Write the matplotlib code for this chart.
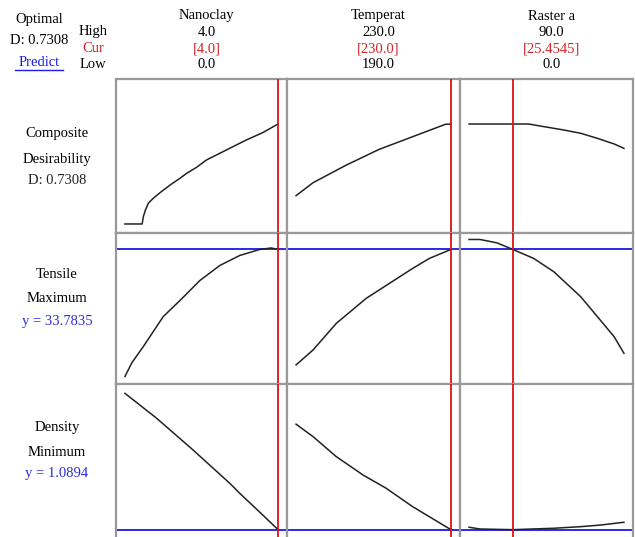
import matplotlib
matplotlib.use("Agg")
import matplotlib.pyplot as plt
from matplotlib.lines import Line2D

plt.rcParams['font.family'] = ['Liberation Serif', 'DejaVu Serif']

# ---- factors ----
factor_names = ["Nanoclay", "Temperat", "Raster a"]
factor_high = ["4.0", "230.0", "90.0"]
factor_cur = ["[4.0]", "[230.0]", "[25.4545]"]
factor_low = ["0.0", "190.0", "0.0"]
factor_lo_val = [0.0, 190.0, 0.0]
factor_hi_val = [4.0, 230.0, 90.0]
factor_cur_val = [4.0, 230.0, 25.4545]

# ---- responses ----
resp_title = [["Composite", "Desirability"], ["Tensile", "Maximum"], ["Density", "Minimum"]]
resp_value_text = ["D: 0.7308", "y = 33.7835", "y = 1.0894"]
resp_value_color = ["#222222", "#2b2bdd", "#2b2bdd"]
resp_current = [None, 33.7835, 1.0894]

# Composite desirability traces
d_nano_x = [0, 0.45, 0.48, 0.535, 0.61, 0.74, 0.917, 1.18, 1.437, 1.61, 1.87, 2.13, 2.65, 3.17, 3.60, 4.0]
d_nano_y = [0, 0, 0.053, 0.102, 0.151, 0.188, 0.229, 0.285, 0.334, 0.370, 0.414, 0.468, 0.541, 0.614, 0.668, 0.7308]
d_temp_x = [190, 194.4, 203.0, 211.5, 220.1, 228.6, 230]
d_temp_y = [0.207, 0.302, 0.431, 0.546, 0.638, 0.729, 0.7308]
d_rast_x = [0, 25.4545, 34.7, 41.5, 55.1, 64.9, 74.6, 84.3, 90]
d_rast_y = [0.7308, 0.7308, 0.7308, 0.716, 0.687, 0.663, 0.626, 0.585, 0.553]

# Tensile traces
t_nano_x = [0, 0.18, 0.48, 1.0, 1.44, 1.96, 2.48, 3.0, 3.52, 3.82, 4.0]
t_nano_y = [23.6, 24.7, 26.0, 28.4, 29.7, 31.3, 32.5, 33.3, 33.78, 33.9, 33.7835]
t_temp_x = [190, 194.4, 200.4, 208.1, 214.1, 220.1, 224.4, 230]
t_temp_y = [24.53, 25.73, 27.86, 29.86, 31.06, 32.26, 33.06, 33.7835]
t_rast_x = [0, 6.4, 16.2, 25.4545, 37.6, 49.3, 64.9, 74.6, 84.3, 90]
t_rast_y = [34.58, 34.58, 34.31, 33.7835, 33.06, 31.99, 29.99, 28.39, 26.79, 25.46]

# Density traces
r_nano_x = [0, 0.83, 1.78, 2.74, 3.0, 3.6, 4.0]
r_nano_y = [1.253, 1.223, 1.185, 1.145, 1.133, 1.107, 1.0894]
r_temp_x = [190, 194.4, 200.4, 207.3, 213.3, 220.1, 224.4, 230]
r_temp_y = [1.216, 1.201, 1.177, 1.155, 1.139, 1.117, 1.105, 1.0894]
r_rast_x = [0, 6.4, 25.4545, 49.3, 64.9, 76.6, 90]
r_rast_y = [1.0923, 1.0902, 1.0894, 1.0911, 1.0930, 1.0950, 1.0983]

traces = [
    [(d_nano_x, d_nano_y), (d_temp_x, d_temp_y), (d_rast_x, d_rast_y)],
    [(t_nano_x, t_nano_y), (t_temp_x, t_temp_y), (t_rast_x, t_rast_y)],
    [(r_nano_x, r_nano_y), (r_temp_x, r_temp_y), (r_rast_x, r_rast_y)],
]
row_ylim = [(-0.066, 1.06), (23.0, 35.1), (1.0806, 1.2642)]

# ---- layout (pixels) ----
W, H = 635, 537
col_edges = [116, 287, 460, 633]
row_edges = [79, 233, 384, 537]
GRAY = "#999999"
RED = "#dd1111"
TEXT_RED = "#d42424"
BLUE = "#1a1ae0"

fig = plt.figure(figsize=(W / 100, H / 100), dpi=100)


def fx(px):
    return px / W


def fy(py):
    return 1 - py / H


for r in range(3):
    for c in range(3):
        x0, x1 = col_edges[c], col_edges[c + 1]
        y0, y1 = row_edges[r], row_edges[r + 1]
        ax = fig.add_axes([fx(x0), fy(y1), fx(x1) - fx(x0), fy(y0) - fy(y1)])
        lo, hi = factor_lo_val[c], factor_hi_val[c]
        pad = (hi - lo) * 9.0 / 154.0
        ax.set_xlim(lo - pad, hi + pad)
        ax.set_ylim(*row_ylim[r])
        ax.set_xticks([])
        ax.set_yticks([])
        for name, sp in ax.spines.items():
            sp.set_color(GRAY)
            sp.set_linewidth(1.6)
        if r == 2:
            ax.spines['bottom'].set_visible(False)
        xs, ys = traces[r][c]
        ax.plot(xs, ys, color="#222222", lw=1.1, zorder=3, solid_joinstyle='round')
        if resp_current[r] is not None:
            ax.axhline(resp_current[r], color=BLUE, lw=1.3, zorder=2)
        ax.axvline(factor_cur_val[c], color=RED, lw=1.3, zorder=4)

fs = 10.5

# header block on the left
fig.text(fx(39), fy(19), "Optimal", ha='center', va='center', fontsize=fs)
fig.text(fx(39), fy(41), "D: 0.7308", ha='center', va='center', fontsize=fs)
fig.text(fx(39), fy(62), "Predict", ha='center', va='center', fontsize=fs, color="#1a1aee")
fig.add_artist(Line2D([fx(15), fx(63)], [fy(70), fy(70)], color="#1a1aee", lw=1.0))
fig.text(fx(93), fy(32), "High", ha='center', va='center', fontsize=fs)
fig.text(fx(93), fy(48), "Cur", ha='center', va='center', fontsize=fs, color=TEXT_RED)
fig.text(fx(93), fy(64), "Low", ha='center', va='center', fontsize=fs)

# factor headers
for c in range(3):
    cx = (col_edges[c] + col_edges[c + 1]) / 2 + 5
    fig.text(fx(cx), fy(16), factor_names[c], ha='center', va='center', fontsize=fs)
    fig.text(fx(cx), fy(33), factor_high[c], ha='center', va='center', fontsize=fs)
    fig.text(fx(cx), fy(49), factor_cur[c], ha='center', va='center', fontsize=fs, color=TEXT_RED)
    fig.text(fx(cx), fy(65), factor_low[c], ha='center', va='center', fontsize=fs)

# response labels
label_y = [(134, 159, 181), (275, 299, 322), (427, 452, 474)]
for r in range(3):
    a, b, v = label_y[r]
    fig.text(fx(57), fy(a), resp_title[r][0], ha='center', va='center', fontsize=fs)
    fig.text(fx(57), fy(b), resp_title[r][1], ha='center', va='center', fontsize=fs)
    fig.text(fx(57), fy(v), resp_value_text[r], ha='center', va='center', fontsize=fs,
             color=resp_value_color[r])

fig.savefig("out.png", dpi=100)
